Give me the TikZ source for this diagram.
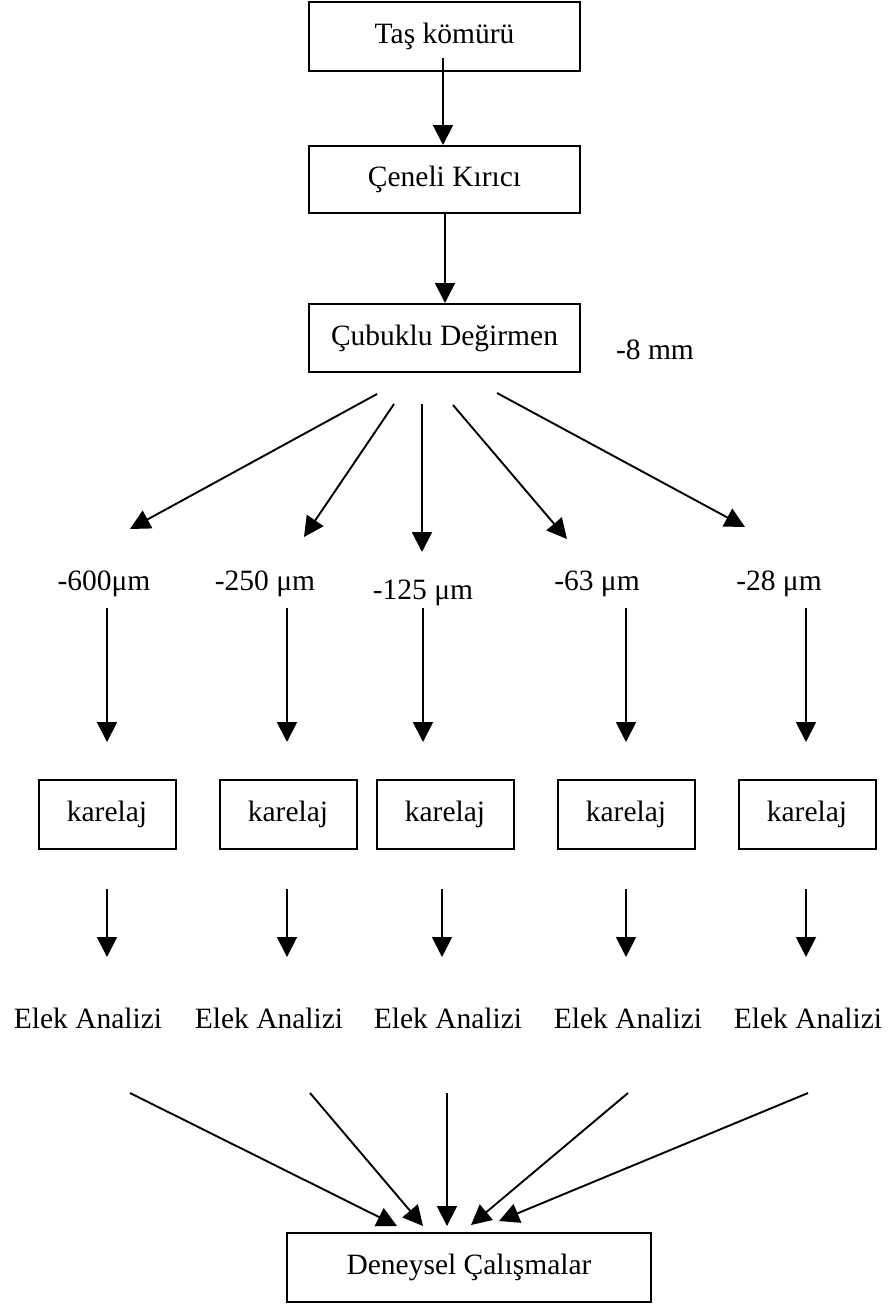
\documentclass[tikz,border=0pt]{standalone}
\usepackage{fontspec}
\setmainfont{Liberation Serif}
\usetikzlibrary{arrows.meta,calc}
\begin{document}
\begin{tikzpicture}[x=1pt,y=-1pt,
  every node/.style={font=\fontsize{29.5}{35}\selectfont,inner sep=0pt},
  box/.style={draw,line width=2pt,minimum width=#1,minimum height=69pt},
  lbl/.style={anchor=base},
  arr/.style={line width=1.9pt,-{Triangle[length=20pt,width=20pt]}}]
\useasboundingbox (0,0) rectangle (893,1304);

% main line
\node[box=271pt,minimum height=69pt] (tas) at (444.5,36.5) {Taş kömürü};
\node[box=271pt,minimum height=67pt] (ceneli) at (444.5,179.5) {Çeneli Kırıcı};
\node[box=271pt,minimum height=68pt] (cubuklu) at (444.5,338) {Çubuklu Değirmen};
\node[lbl] (mm) at (655,359) {-8 mm};

\draw[arr] ($(tas.south)+(-1.5,-14)$) -- ($(ceneli.north)+(-1.5,0)$);
\draw[arr] ($(ceneli.south)+(0.5,0)$) -- ($(cubuklu.north)+(0.5,0)$);

% size fractions
\node[lbl] (l1) at (104,590) {-600μm};
\node[lbl] (l2) at (265,590) {-250 μm};
\node[lbl] (l3) at (423,599) {-125 μm};
\node[lbl] (l4) at (597,590) {-63 μm};
\node[lbl] (l5) at (779,590) {-28 μm};

\draw[arr] ($(cubuklu.south)+(-67.5,21)$) -- ($(l1.base)+(26,-61)$);
\draw[arr] ($(cubuklu.south)+(-50.5,31)$) -- ($(l2.base)+(39,-53)$);
\draw[arr] ($(cubuklu.south)+(-22.5,31)$) -- ($(l3.base)+(-1,-47)$);
\draw[arr] ($(cubuklu.south)+(8.5,32)$) -- ($(l4.base)+(-30,-51)$);
\draw[arr] ($(cubuklu.south)+(52.5,20)$) -- ($(l5.base)+(-34,-63)$);

% sampling boxes
\node[box=137pt] (k1) at (107,814.5) {karelaj};
\node[box=137pt] (k2) at (288,814.5) {karelaj};
\node[box=137pt] (k3) at (445,814.5) {karelaj};
\node[box=137pt] (k4) at (626,814.5) {karelaj};
\node[box=137pt] (k5) at (807,814.5) {karelaj};

\draw[arr] ($(l1.base)+(3,18)$) -- ($(k1.north)+(0,-37)$);
\draw[arr] ($(l2.base)+(22,18)$) -- ($(k2.north)+(-1,-37)$);
\draw[arr] ($(l3.base)+(0,9)$) -- ($(k3.north)+(-22,-37)$);
\draw[arr] ($(l4.base)+(29,18)$) -- ($(k4.north)+(0,-37)$);
\draw[arr] ($(l5.base)+(27,18)$) -- ($(k5.north)+(-1,-37)$);

% sieve analyses
\node[lbl] (e1) at (88,1028) {Elek Analizi};
\node[lbl] (e2) at (269,1028) {Elek Analizi};
\node[lbl] (e3) at (448,1028) {Elek Analizi};
\node[lbl] (e4) at (628,1028) {Elek Analizi};
\node[lbl] (e5) at (808,1028) {Elek Analizi};

\draw[arr] ($(k1.south)+(0,39)$) -- ($(e1.base)+(19,-71)$);
\draw[arr] ($(k2.south)+(-1,39)$) -- ($(e2.base)+(18,-71)$);
\draw[arr] ($(k3.south)+(-3,39)$) -- ($(e3.base)+(-6,-71)$);
\draw[arr] ($(k4.south)+(0,39)$) -- ($(e4.base)+(-2,-71)$);
\draw[arr] ($(k5.south)+(-1,39)$) -- ($(e5.base)+(-2,-71)$);

% experiments
\node[box=364pt] (deney) at (469,1267.5) {Deneysel Çalışmalar};

\draw[arr] ($(e1.base)+(42,65)$) -- ($(deney.north)+(-72,-6)$);
\draw[arr] ($(e2.base)+(41,65)$) -- ($(deney.north)+(-46,-6)$);
\draw[arr] ($(e3.base)+(-1,65)$) -- ($(deney.north)+(-22,-6)$);
\draw[arr] ($(e4.base)+(0,65)$) -- ($(deney.north)+(2,-7)$);
\draw[arr] ($(e5.base)+(0,65)$) -- ($(deney.north)+(30,-11)$);
\end{tikzpicture}
\end{document}
